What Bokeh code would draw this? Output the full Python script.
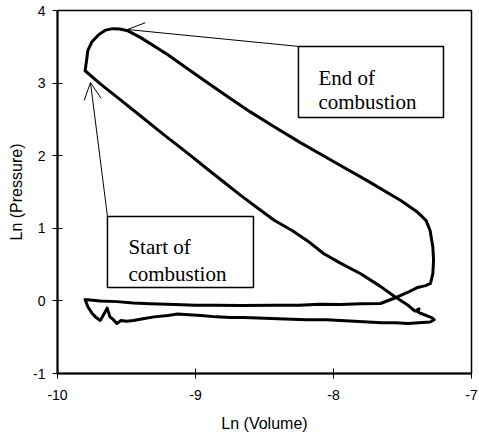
from bokeh.plotting import figure
from bokeh.models import Arrow, OpenHead, BoxAnnotation, Label, FixedTicker
from bokeh.embed import file_html
from bokeh.resources import INLINE

# Log pressure vs. log volume for one engine cycle, stroke by stroke
intake_v = [-9.80, -9.78, -9.75, -9.72, -9.69, -9.66, -9.64, -9.62, -9.60, -9.57,
            -9.54, -9.50, -9.45, -9.38, -9.30, -9.20, -9.13, -9.05, -8.96, -8.85,
            -8.75, -8.65, -8.50, -8.35, -8.20, -8.05, -7.95, -7.85, -7.75, -7.65,
            -7.55, -7.46, -7.38, -7.30, -7.27]
intake_p = [0.02, -0.08, -0.17, -0.23, -0.27, -0.17, -0.10, -0.22, -0.25, -0.31,
            -0.27, -0.28, -0.27, -0.245, -0.22, -0.20, -0.18, -0.19, -0.20, -0.22,
            -0.23, -0.23, -0.24, -0.25, -0.26, -0.26, -0.27, -0.28, -0.29, -0.30,
            -0.30, -0.31, -0.30, -0.29, -0.26]

compression_v = [-7.29, -7.33, -7.37, -7.39, -7.38, -7.41, -7.46, -7.565, -7.66, -7.80,
                 -7.95, -8.07, -8.19, -8.30, -8.43, -8.55, -8.67, -8.77, -8.91, -9.06,
                 -9.23, -9.40, -9.55, -9.69, -9.80]
compression_p = [-0.23, -0.20, -0.17, -0.15, -0.11, -0.14, -0.06, 0.07, 0.20, 0.37,
                 0.52, 0.65, 0.83, 0.97, 1.11, 1.28, 1.45, 1.60, 1.81, 2.04,
                 2.29, 2.55, 2.78, 2.99, 3.17]

expansion_v = [-9.79, -9.78, -9.75, -9.70, -9.65, -9.60, -9.55, -9.49, -9.40, -9.20,
               -9.06, -8.91, -8.75, -8.60, -8.43, -8.24, -8.00, -7.75, -7.51, -7.39,
               -7.33, -7.30, -7.28, -7.275, -7.28, -7.297]
expansion_p = [3.30, 3.45, 3.57, 3.67, 3.73, 3.75, 3.745, 3.72, 3.63, 3.39,
               3.20, 3.00, 2.79, 2.60, 2.40, 2.18, 1.92, 1.65, 1.38, 1.22,
               1.11, 0.97, 0.74, 0.56, 0.38, 0.24]

exhaust_v = [-7.333, -7.39, -7.464, -7.565, -7.66, -7.80, -7.95, -8.10, -8.25, -8.43,
             -8.67, -8.85, -9.00, -9.15, -9.33, -9.45, -9.57, -9.69, -9.80]
exhaust_p = [0.21, 0.185, 0.116, 0.033, -0.036, -0.04, -0.05, -0.045, -0.06, -0.06,
             -0.065, -0.06, -0.06, -0.05, -0.04, -0.03, -0.01, 0.00, 0.02]

x_ticks = [-10, -9, -8, -7]
y_ticks = [-1, 0, 1, 2, 3, 4]

# Callout positions (data units)
end_box = dict(left=-8.254, right=-7.203, top=3.504, bottom=2.526)
end_arrow = dict(x_start=-8.246, y_start=3.504, x_end=-9.493, y_end=3.738)
end_text = [("End of", -8.109, 3.077), ("combustion", -8.109, 2.737)]

start_box = dict(left=-9.638, right=-8.580, top=1.163, bottom=0.185)
start_arrow = dict(x_start=-9.638, y_start=1.163, x_end=-9.761, y_end=3.008)
start_text = [("Start of", -9.486, 0.736), ("combustion", -9.486, 0.377)]

cycle_v = intake_v + compression_v + expansion_v + exhaust_v
cycle_p = intake_p + compression_p + expansion_p + exhaust_p

p = figure(width=479, height=434, x_range=(-10, -7), y_range=(-1, 4),
           output_backend="svg", toolbar_location=None,
           min_border_left=57, min_border_right=8, min_border_top=10, min_border_bottom=61)
p.background_fill_color = "white"
p.border_fill_color = "white"
p.outline_line_color = "black"
p.outline_line_width = 1.5
p.grid.visible = False

p.line(cycle_v, cycle_p, line_color="black", line_width=3, line_join="round", line_cap="round")

for ax, ticks in ((p.xaxis, x_ticks), (p.yaxis, y_ticks)):
    ax.ticker = FixedTicker(ticks=ticks)
    ax.major_label_overrides = {t: str(t) for t in ticks}
    ax.minor_tick_line_color = None
    ax.axis_line_width = 2
    ax.axis_line_color = "black"
    ax.major_tick_line_color = "black"
    ax.major_tick_line_width = 1
    ax.major_tick_in = 5
    ax.major_tick_out = 5
    ax.major_label_text_font = "Liberation Sans"
    ax.major_label_text_font_size = "14px"
    ax.major_label_text_color = "black"
    ax.axis_label_text_font = "Liberation Sans"
    ax.axis_label_text_font_size = "16px"
    ax.axis_label_text_font_style = "normal"
    ax.axis_label_text_color = "black"

p.xaxis.axis_label = "Ln (Volume)"
p.yaxis.axis_label = "Ln (Pressure)"
p.xaxis.major_label_standoff = 11
p.yaxis.major_label_standoff = 7
p.xaxis.axis_label_standoff = 12
p.yaxis.axis_label_standoff = 5

for box, arrow, texts in ((end_box, end_arrow, end_text), (start_box, start_arrow, start_text)):
    p.add_layout(Arrow(end=OpenHead(size=17, line_width=1, line_color="black"),
                       line_color="black", line_width=1, **arrow))
    p.add_layout(BoxAnnotation(fill_color="white", fill_alpha=1, line_color="black",
                               line_width=1.5, line_alpha=1, **box))
    for txt, tx, ty in texts:
        p.add_layout(Label(x=tx, y=ty, text=txt, text_font="Liberation Serif",
                           text_font_size="21px", text_color="black",
                           text_baseline="alphabetic", text_align="left"))

open("out.html", "w").write(file_html(p, INLINE))
